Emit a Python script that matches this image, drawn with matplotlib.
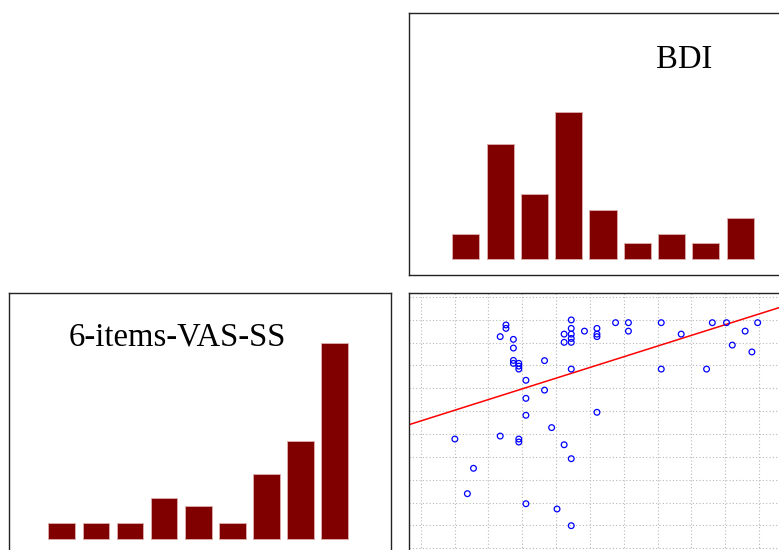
import matplotlib
matplotlib.use("Agg")
import matplotlib.pyplot as plt

# histogram counts per bin
bdi_counts = [3, 14, 8, 18, 6, 2, 3, 2, 5]
vas_counts = [2, 2, 2, 5, 4, 2, 8, 12, 24]

# scatter values
scatter_x = [1.01, 1.56, 1.38, 2.35, 2.52, 2.52, 2.74, 2.74, 2.74, 2.74,
             2.90, 2.90, 2.90, 3.11, 3.11, 3.11, 3.11, 2.35, 2.90, 2.90,
             3.66, 3.66, 3.87, 4.24, 4.24, 4.24, 4.03, 4.45, 4.45, 4.45,
             4.45, 4.45, 4.45, 4.45, 4.45, 4.84, 5.21, 5.21, 5.21, 5.21,
             5.76, 6.14, 6.14, 7.11, 7.11, 7.70, 8.45, 8.62, 9.04, 9.21,
             9.59, 9.79, 9.96]
scatter_y = [4.78, 3.50, 2.39, 9.26, 9.77, 9.62, 9.14, 8.76, 8.22, 8.09,
             8.09, 7.97, 7.84, 7.35, 6.56, 5.82, 1.95, 4.91, 4.78, 4.65,
             8.21, 6.92, 5.28, 9.37, 9.01, 4.53, 1.72, 9.99, 9.62, 9.37,
             9.18, 9.01, 7.84, 3.92, 0.99, 9.50, 9.62, 9.37, 9.26, 5.95,
             9.87, 9.87, 9.50, 9.87, 7.84, 9.37, 7.84, 9.87, 9.87, 8.89,
             9.50, 8.59, 9.87]

# fitted line
line_intercept = 5.57
line_slope = 0.468

W, H = 779, 550
fig = plt.figure(figsize=(W / 100, H / 100), dpi=100)


def px_axes(left, top, width, height):
    # place an axes by pixel box (top-left origin)
    return fig.add_axes([left / W, (H - top - height) / H, width / W, height / H])


def style_box(ax):
    ax.set_xticks([])
    ax.set_yticks([])
    for s in ax.spines.values():
        s.set_color("#222222")
        s.set_linewidth(1.0)


bar_color = "#800000"
edge_color = "#e0b0b0"
title_font = dict(family="Liberation Serif", fontsize=23.5, color="black")

# BDI histogram (top right)
ax1 = px_axes(409.3, 12.7, 381, 262)
ax1.bar(range(len(bdi_counts)), bdi_counts, width=0.79, color=bar_color,
        edgecolor=edge_color, linewidth=0.6)
ax1.set_xlim(-1.647, 9.461)
ax1.set_ylim(-1.92, 30.11)
style_box(ax1)
ax1.text(0.7205, 0.790, "BDI", transform=ax1.transAxes, ha="center",
         va="baseline", **title_font)

# 6-items-VAS-SS histogram (bottom left)
ax2 = px_axes(9.3, 293.3, 381.4, 262)
ax2.bar(range(len(vas_counts)), vas_counts, width=0.78, color=bar_color,
        edgecolor=edge_color, linewidth=0.6)
ax2.set_xlim(-1.535, 9.64)
ax2.set_ylim(-1.99, 30.04)
style_box(ax2)
ax2.text(0.4418, 0.800, "6-items-VAS-SS", transform=ax2.transAxes,
         ha="center", va="baseline", **title_font)

# scatter with regression line (bottom right)
ax3 = px_axes(409.3, 293.3, 381, 262)
ax3.set_xlim(-0.337, 10.925)
ax3.set_ylim(-0.306, 11.155)
ax3.set_xticks(range(0, 11))
ax3.set_yticks(range(0, 12))
ax3.tick_params(length=0, labelbottom=False, labelleft=False)
ax3.grid(True, color="#b8b8b8", linestyle=(0, (1, 2)), linewidth=0.8)
ax3.set_axisbelow(True)
ax3.scatter(scatter_x, scatter_y, s=17, facecolors="none",
            edgecolors="blue", linewidths=0.9, zorder=3)
ax3.axline((0, line_intercept), slope=line_slope, color="red", linewidth=1.1,
           zorder=2)
for s in ax3.spines.values():
    s.set_color("#222222")
    s.set_linewidth(1.0)

fig.savefig("out.png", dpi=100)
